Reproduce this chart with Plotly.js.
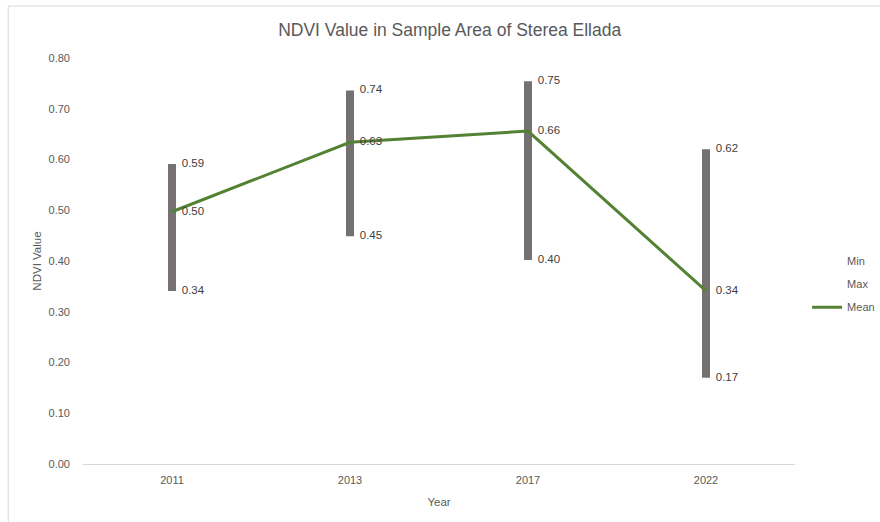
<!DOCTYPE html>
<html>
<head>
<meta charset="utf-8">
<script src="https://cdn.plot.ly/plotly-3.0.1.min.js"></script>
<style>html,body{margin:0;padding:0;background:#fff;}#chart{width:880px;height:522px;}</style>
</head>
<body>
<div id="chart"></div>
<script>
const years = ['2011', '2013', '2017', '2022'];
const minVals = [0.341, 0.449, 0.402, 0.170];
const maxVals = [0.591, 0.736, 0.754, 0.620];
const meanVals = [0.497, 0.634, 0.656, 0.341];
const yTicks = [0, 0.1, 0.2, 0.3, 0.4, 0.5, 0.6, 0.7, 0.8];

const FONT = 'Liberation Sans, Arial, sans-serif';
const GRAY_TXT = '#595959';
const LABEL_TXT = '#404040';
const BAR_COL = '#767171';
const GREEN = '#548235';

const spans = maxVals.map((v, i) => v - minVals[i]);
const fmt = a => a.map(v => v.toFixed(2));

const labelTrace = (vals) => ({
  type: 'scatter', x: years, y: vals, mode: 'markers+text',
  marker: {size: 14, opacity: 0}, text: fmt(vals), textposition: 'middle right',
  textfont: {family: FONT, size: 11.5, color: LABEL_TXT},
  showlegend: false, hoverinfo: 'skip', cliponaxis: false
});

const data = [
  {type: 'bar', x: years, y: spans, base: minVals, width: 0.045,
   marker: {color: BAR_COL, line: {width: 0}}, showlegend: false, hoverinfo: 'skip'},
  {type: 'scatter', x: years, y: minVals, mode: 'lines', name: 'Min',
   line: {width: 0, color: 'rgba(0,0,0,0)'}, legendgroup: 'a', hoverinfo: 'skip'},
  {type: 'scatter', x: years, y: maxVals, mode: 'lines', name: 'Max',
   line: {width: 0, color: 'rgba(0,0,0,0)'}, legendgroup: 'b', hoverinfo: 'skip'},
  {type: 'scatter', x: years, y: meanVals, mode: 'lines', name: 'Mean',
   line: {width: 3, color: GREEN}, legendgroup: 'c'},
  labelTrace(minVals),
  labelTrace(maxVals),
  labelTrace(meanVals)
];

const layout = {
  width: 880, height: 522,
  margin: {l: 83, r: 85, t: 58, b: 58, pad: 0, autoexpand: false},
  paper_bgcolor: '#ffffff', plot_bgcolor: '#ffffff',
  font: {family: FONT, size: 11, color: GRAY_TXT},
  title: {text: 'NDVI Value in Sample Area of Sterea Ellada', x: 0.511, xanchor: 'center',
          y: 0.942, yanchor: 'middle', font: {family: FONT, size: 17.5, color: GRAY_TXT}},
  xaxis: {type: 'category', showgrid: false, zeroline: false, showline: false, ticks: '',
          tickfont: {family: FONT, size: 11, color: GRAY_TXT}, ticklabelstandoff: 8,
          title: {text: 'Year', font: {family: FONT, size: 11.5, color: GRAY_TXT}, standoff: 12},
          automargin: false, fixedrange: true},
  yaxis: {range: [0, 0.8], tickvals: yTicks, tickformat: '.2f', showgrid: false,
          zeroline: true, zerolinecolor: '#d9d9d9', zerolinewidth: 1, showline: false, ticks: '',
          tickfont: {family: FONT, size: 11, color: GRAY_TXT}, ticklabelstandoff: 12,
          title: {text: 'NDVI Value', font: {family: FONT, size: 11.5, color: GRAY_TXT}, standoff: 4},
          automargin: false, fixedrange: true},
  legend: {x: 1.017, xanchor: 'left', y: 0.443, yanchor: 'middle', traceorder: 'grouped',
           tracegroupgap: 4, bgcolor: 'rgba(0,0,0,0)',
           font: {family: FONT, size: 11, color: GRAY_TXT}},
  shapes: [
    {type: 'line', xref: 'paper', yref: 'paper', x0: -0.105, x1: -0.105, y0: -0.2, y1: 1.128,
     line: {color: '#d9d9d9', width: 1}},
    {type: 'line', xref: 'paper', yref: 'paper', x0: -0.105, x1: 1.2, y0: 1.128, y1: 1.128,
     line: {color: '#d9d9d9', width: 1}}
  ],
  showlegend: true
};

Plotly.newPlot('chart', data, layout, {displayModeBar: false, staticPlot: true});
</script>
</body>
</html>
